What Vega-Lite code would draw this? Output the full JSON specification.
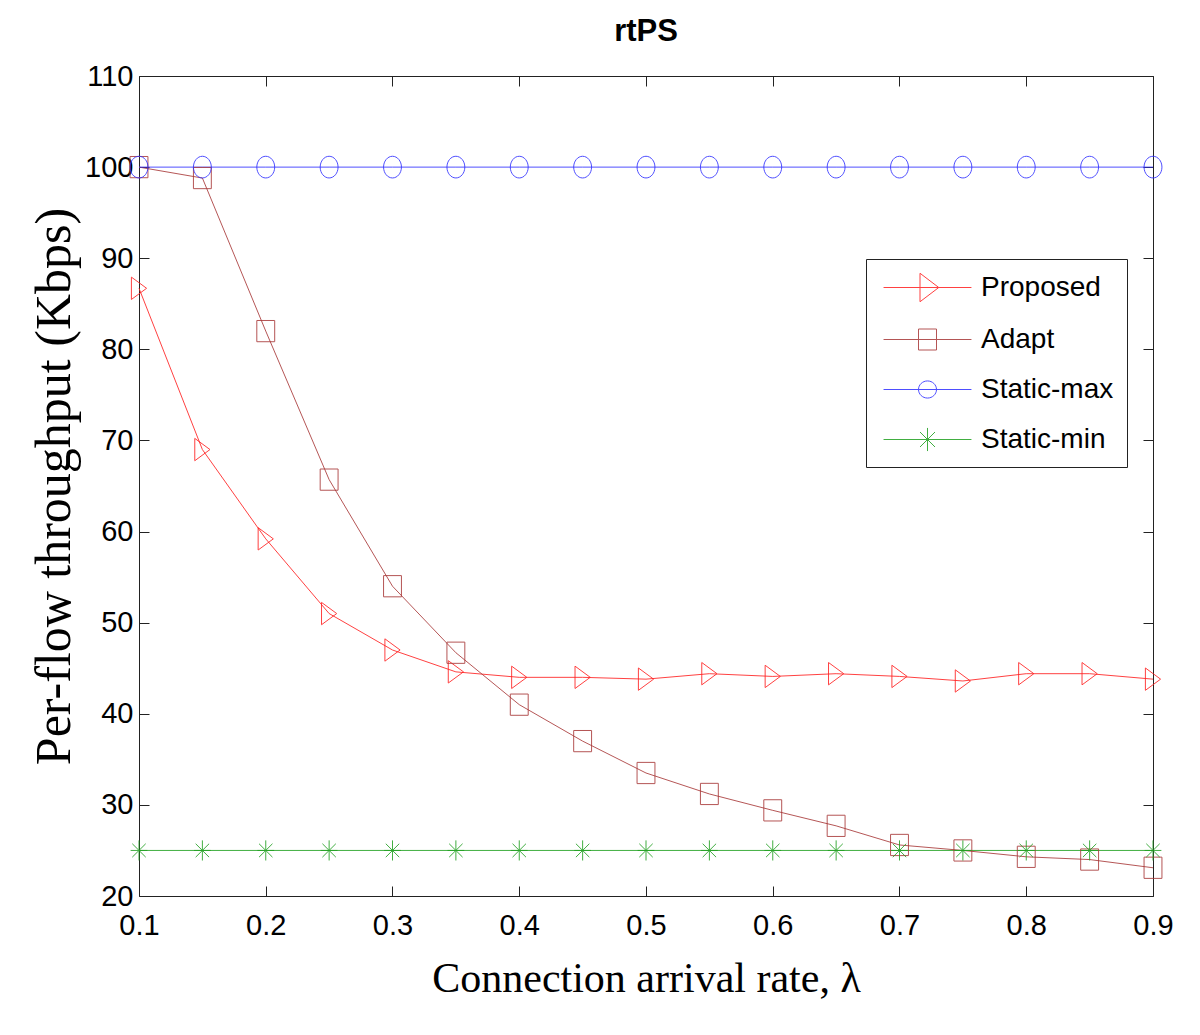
{
  "$schema": "https://vega.github.io/schema/vega-lite/v6.json",
  "autosize": "none",
  "width": 1014,
  "height": 820,
  "padding": {"left": 139, "top": 76, "right": 47, "bottom": 139},
  "background": "white",
  "title": {"text": "rtPS", "font": "Liberation Sans", "fontSize": 31, "fontWeight": "bold", "color": "black", "anchor": "middle", "offset": 14},
  "config": {
    "view": {"stroke": "#222", "strokeWidth": 1},
    "axis": {"grid": false, "domain": false, "labelFont": "Liberation Sans", "labelFontSize": 29, "labelColor": "black", "titleFont": "Liberation Serif", "titleFontWeight": "normal", "titleColor": "black", "tickColor": "#222", "tickSize": 10, "offset": -10}
  },
  "data": {"values": [
    {"x": 0.1, "y": 86.7, "series": "Proposed"},
    {"x": 0.15, "y": 69.0, "series": "Proposed"},
    {"x": 0.2, "y": 59.2, "series": "Proposed"},
    {"x": 0.25, "y": 51.0, "series": "Proposed"},
    {"x": 0.3, "y": 47.0, "series": "Proposed"},
    {"x": 0.35, "y": 44.6, "series": "Proposed"},
    {"x": 0.4, "y": 44.0, "series": "Proposed"},
    {"x": 0.45, "y": 44.0, "series": "Proposed"},
    {"x": 0.5, "y": 43.8, "series": "Proposed"},
    {"x": 0.55, "y": 44.4, "series": "Proposed"},
    {"x": 0.6, "y": 44.1, "series": "Proposed"},
    {"x": 0.65, "y": 44.4, "series": "Proposed"},
    {"x": 0.7, "y": 44.1, "series": "Proposed"},
    {"x": 0.75, "y": 43.6, "series": "Proposed"},
    {"x": 0.8, "y": 44.4, "series": "Proposed"},
    {"x": 0.85, "y": 44.4, "series": "Proposed"},
    {"x": 0.9, "y": 43.8, "series": "Proposed"},
    {"x": 0.1, "y": 100.0, "series": "Adapt"},
    {"x": 0.15, "y": 98.8, "series": "Adapt"},
    {"x": 0.2, "y": 82.0, "series": "Adapt"},
    {"x": 0.25, "y": 65.7, "series": "Adapt"},
    {"x": 0.3, "y": 54.0, "series": "Adapt"},
    {"x": 0.35, "y": 46.7, "series": "Adapt"},
    {"x": 0.4, "y": 41.0, "series": "Adapt"},
    {"x": 0.45, "y": 37.0, "series": "Adapt"},
    {"x": 0.5, "y": 33.5, "series": "Adapt"},
    {"x": 0.55, "y": 31.2, "series": "Adapt"},
    {"x": 0.6, "y": 29.4, "series": "Adapt"},
    {"x": 0.65, "y": 27.7, "series": "Adapt"},
    {"x": 0.7, "y": 25.6, "series": "Adapt"},
    {"x": 0.75, "y": 25.0, "series": "Adapt"},
    {"x": 0.8, "y": 24.3, "series": "Adapt"},
    {"x": 0.85, "y": 24.0, "series": "Adapt"},
    {"x": 0.9, "y": 23.1, "series": "Adapt"},
    {"x": 0.1, "y": 100, "series": "Static-max"},
    {"x": 0.15, "y": 100, "series": "Static-max"},
    {"x": 0.2, "y": 100, "series": "Static-max"},
    {"x": 0.25, "y": 100, "series": "Static-max"},
    {"x": 0.3, "y": 100, "series": "Static-max"},
    {"x": 0.35, "y": 100, "series": "Static-max"},
    {"x": 0.4, "y": 100, "series": "Static-max"},
    {"x": 0.45, "y": 100, "series": "Static-max"},
    {"x": 0.5, "y": 100, "series": "Static-max"},
    {"x": 0.55, "y": 100, "series": "Static-max"},
    {"x": 0.6, "y": 100, "series": "Static-max"},
    {"x": 0.65, "y": 100, "series": "Static-max"},
    {"x": 0.7, "y": 100, "series": "Static-max"},
    {"x": 0.75, "y": 100, "series": "Static-max"},
    {"x": 0.8, "y": 100, "series": "Static-max"},
    {"x": 0.85, "y": 100, "series": "Static-max"},
    {"x": 0.9, "y": 100, "series": "Static-max"},
    {"x": 0.1, "y": 25, "series": "Static-min"},
    {"x": 0.15, "y": 25, "series": "Static-min"},
    {"x": 0.2, "y": 25, "series": "Static-min"},
    {"x": 0.25, "y": 25, "series": "Static-min"},
    {"x": 0.3, "y": 25, "series": "Static-min"},
    {"x": 0.35, "y": 25, "series": "Static-min"},
    {"x": 0.4, "y": 25, "series": "Static-min"},
    {"x": 0.45, "y": 25, "series": "Static-min"},
    {"x": 0.5, "y": 25, "series": "Static-min"},
    {"x": 0.55, "y": 25, "series": "Static-min"},
    {"x": 0.6, "y": 25, "series": "Static-min"},
    {"x": 0.65, "y": 25, "series": "Static-min"},
    {"x": 0.7, "y": 25, "series": "Static-min"},
    {"x": 0.75, "y": 25, "series": "Static-min"},
    {"x": 0.8, "y": 25, "series": "Static-min"},
    {"x": 0.85, "y": 25, "series": "Static-min"},
    {"x": 0.9, "y": 25, "series": "Static-min"}
  ]},
  "resolve": {"scale": {"shape": "independent", "color": "independent"}, "axis": {"x": "independent", "y": "independent"}, "legend": {"color": "independent", "shape": "independent"}},
  "layer": [
    {
      "mark": {"type": "line", "strokeWidth": 1, "opacity": 0.85},
      "encoding": {
        "x": {"field": "x", "type": "quantitative", "scale": {"domain": [0.1, 0.9], "nice": false, "zero": false}, "axis": {"values": [0.1,0.2,0.3,0.4,0.5,0.6,0.7,0.8,0.9], "format": ".1f", "title": "Connection arrival rate, λ", "titleFontSize": 42, "labelPadding": 15, "titlePadding": 18, "labelFlush": false}},
        "y": {"field": "y", "type": "quantitative", "scale": {"domain": [20, 110], "nice": false, "zero": false}, "axis": {"values": [20,30,40,50,60,70,80,90,100,110], "title": "Per-flow throughput (Kbps)", "titleFontSize": 50, "labelPadding": 6, "titlePadding": 5, "labelFlush": false}},
        "color": {"field": "series", "type": "nominal", "scale": {"domain": ["Proposed", "Adapt", "Static-max", "Static-min"], "range": ["#ff2020", "#a83838", "#3030ff", "#20a020"]}, "legend": null},
        "detail": {"field": "series"}
      }
    },
    {
      "mark": {"type": "point", "filled": false, "strokeWidth": 1, "opacity": 0.85, "size": 500},
      "encoding": {
        "x": {"field": "x", "type": "quantitative", "axis": null},
        "y": {"field": "y", "type": "quantitative", "axis": null},
        "color": {"field": "series", "type": "nominal", "scale": {"domain": ["Proposed", "Adapt", "Static-max", "Static-min"], "range": ["#ff2020", "#a83838", "#3030ff", "#20a020"]}, "legend": null},
        "shape": {"field": "series", "type": "nominal", "scale": {"domain": ["Proposed", "Adapt", "Static-max", "Static-min"], "range": ["M-0.68,-1L0.68,0L-0.68,1Z", "M-0.8,-0.95L0.8,-0.95L0.8,0.95L-0.8,0.95Z", "M-0.8,0A0.8,0.97 0 1,0 0.8,0A0.8,0.97 0 1,0 -0.8,0Z", "M0,-0.9L0,0.9M-0.6,-0.6L0.6,0.6M-0.6,0.6L0.6,-0.6M-0.75,0L0.75,0"]}, "legend": null}
      }
    },
    {
      "transform": [{"filter": "datum.y > 1000"}],
      "mark": {"type": "point", "filled": false, "strokeWidth": 1, "opacity": 0.85},
      "encoding": {
        "x": {"field": "x", "type": "quantitative", "axis": {"orient": "top", "values": [0.1,0.2,0.3,0.4,0.5,0.6,0.7,0.8,0.9], "labels": false, "title": null}},
        "y": {"field": "y", "type": "quantitative", "axis": {"orient": "right", "values": [20,30,40,50,60,70,80,90,100,110], "labels": false, "title": null}},
        "color": {"field": "series", "type": "nominal", "scale": {"domain": ["Proposed", "Adapt", "Static-max", "Static-min"], "range": ["#ff2020", "#a83838", "#3030ff", "#20a020"]},
          "legend": {"title": null, "orient": "none", "legendX": 727, "legendY": 183, "symbolSize": 900, "symbolStrokeWidth": 1, "symbolOffset": 33, "labelFont": "Liberation Sans", "labelFontSize": 28, "labelColor": "black", "labelOffset": 38, "labelLimit": 300, "rowPadding": 20, "padding": 13, "strokeColor": "#222", "fillColor": "white", "symbolFillColor": "transparent", "symbolOpacity": 0.85}},
        "shape": {"field": "series", "type": "nominal", "scale": {"domain": ["Proposed", "Adapt", "Static-max", "Static-min"], "range": ["M-2.93,0L2.93,0M-0.5,-0.95L0.75,0L-0.5,0.95Z", "M-2.93,0L2.93,0M-0.6,-0.7L0.6,-0.7L0.6,0.7L-0.6,0.7Z", "M-2.93,0L2.93,0M-0.6,0A0.6,0.57 0 1,0 0.6,0A0.6,0.57 0 1,0 -0.6,0Z", "M-2.93,0L2.93,0M0,-0.77L0,0.77M-0.5,-0.5L0.5,0.5M-0.5,0.5L0.5,-0.5"]},
          "legend": {"title": null, "orient": "none", "legendX": 727, "legendY": 183, "symbolSize": 900, "symbolStrokeWidth": 1, "symbolOffset": 33, "labelFont": "Liberation Sans", "labelFontSize": 28, "labelColor": "black", "labelOffset": 38, "labelLimit": 300, "rowPadding": 20, "padding": 13, "strokeColor": "#222", "fillColor": "white", "symbolFillColor": "transparent", "symbolOpacity": 0.85}
        }
      }
    }
  ]
}
